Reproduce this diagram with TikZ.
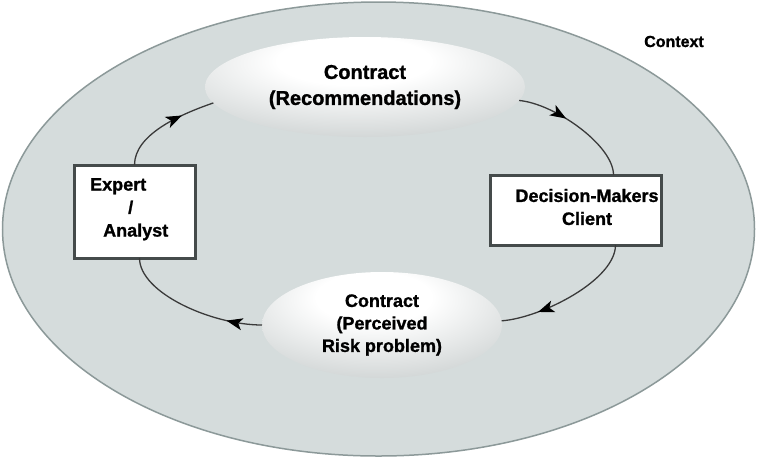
\documentclass[tikz,border=0pt]{standalone}
\usepackage{fontspec}
\setmainfont{Liberation Sans}[BoldFeatures={FakeBold=1.2}]
\usetikzlibrary{arrows.meta,decorations.markings,shapes.geometric}
\definecolor{bgout}{HTML}{D5DCDC}
\definecolor{outline}{HTML}{8C9999}
\definecolor{ellgrey}{HTML}{ABB3B3}
\definecolor{boxline}{HTML}{454B4B}
\definecolor{conn}{HTML}{3A3A3A}
\pgfdeclareradialshading{ellshade}{\pgfpoint{-2bp}{15bp}}{color(0bp)=(white); color(12bp)=(white); color(55bp)=(ellgrey); color(90bp)=(ellgrey)}
\begin{document}
\begin{tikzpicture}[x=1pt,y=-1pt,
  oval/.style={ellipse, shading=ellshade, draw=none, inner sep=0pt, outer sep=0pt, align=center},
  framebox/.style={rectangle, draw=boxline, line width=3pt, fill=white, inner sep=0pt, outer sep=0pt},
  lbl/.style={font=\bfseries\fontsize{18}{23}\selectfont, inner sep=0pt},
  flow/.style={draw=conn, line width=1.3pt, postaction={decorate}},
  tipat/.style={decoration={markings, mark=at position #1 with {\arrow[black]{Stealth[length=16pt,width=12pt,inset=4pt]}}}}
]
\useasboundingbox (0,0) rectangle (757,459);
\fill[white] (0,0) rectangle (757,459);
% context region
\draw[fill=bgout, draw=outline, line width=1.5pt] (378.5,229) ellipse [x radius=376, y radius=227];
\node[font=\bfseries\fontsize{16}{19}\selectfont, anchor=base, inner sep=0pt] (ctx) at (674,47) {Context};
% contracts
\node[oval, minimum width=320, minimum height=100, font=\bfseries\fontsize{20}{26}\selectfont] (top) at (365,87) {Contract\\(Recommendations)};
\node[oval, minimum width=240, minimum height=106, font=\bfseries\fontsize{18}{22.5}\selectfont] (bottom) at (382,325) {Contract\\(Perceived\\Risk problem)};
% boxes
\node[framebox, minimum width=121, minimum height=93] (expert) at (134.5,211.5) {};
\node[lbl, align=left, anchor=north west] (experttxt) at (90,178) {Expert\\\hspace*{38pt}/\\\hspace*{13pt}Analyst};
\node[framebox, minimum width=171, minimum height=70] (decision) at (575.5,210) {};
\node[lbl, align=center] (dectxt) at (587,207) {Decision-Makers\\Client};
% connectors
\draw[flow, tipat=0.68] (expert.north) .. controls +(0,-30) and +(-35,12) .. (top.186);
\draw[flow, tipat=0.40] (top.355) .. controls +(35,3) and +(0,-30) .. ([xshift=38pt]decision.north);
\draw[flow, tipat=0.74] ([xshift=40pt]decision.south) .. controls +(0,35) and +(40,-3) .. (bottom.2);
\draw[flow, tipat=0.24] (bottom.west) .. controls +(-50,0) and +(0,35) .. ([xshift=5pt]expert.south);
\end{tikzpicture}
\end{document}
